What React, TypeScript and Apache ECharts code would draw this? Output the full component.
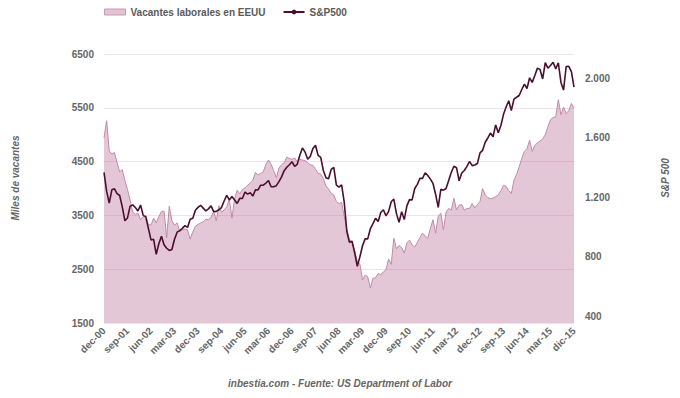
import React, { useEffect, useRef } from "react";
import * as echarts from "echarts";

// Monthly categories dec-00 .. dic-15
const monthAbbr = ["jan", "feb", "mar", "apr", "may", "jun", "jul", "aug", "sep", "oct", "nov", "dec"];
const categories: string[] = (() => {
  const out: string[] = [];
  for (let k = 0; k < 181; k++) {
    const mi = (11 + k) % 12;
    const y = 2000 + Math.floor((11 + k) / 12);
    out.push(`${monthAbbr[mi]}-${String(y % 100).padStart(2, "0")}`);
  }
  out[180] = "dic-15";
  return out;
})();

const leftTicks = [1500, 2500, 3500, 4500, 5500, 6500];
const rightTicks = [400, 800, 1200, 1600, 2000];

// Job openings (thousands)
const jobOpenings = [
  4940, 5260, 4700, 4640, 4670, 4480, 4310, 4350, 4150, 3980, 3780, 3560,
  3520, 3540, 3420, 3480, 3500, 3330, 3320, 3450, 3360, 3480, 3570, 3580,
  3080, 3670, 3400, 3320, 3360, 3200, 3230, 3250, 3230, 3060, 3190, 3300,
  3330, 3360, 3380, 3430, 3420, 3460, 3580, 3400, 3680, 3560, 3600, 3660,
  3800, 3450, 3800, 3970, 3900, 3980, 4010, 4060, 4100, 4150, 4300, 4250,
  4280, 4310, 4450, 4530, 4450, 4330, 4200, 4380, 4440, 4480, 4580, 4560,
  4540, 4570, 4500, 4540, 4530, 4520, 4480, 4440, 4430, 4360, 4280, 4270,
  4180, 4050, 3990, 3910, 3880, 3760, 3720, 3740, 3480, 3240, 3050, 2990,
  2850, 2650, 2600, 2300, 2390, 2360, 2150, 2330, 2340, 2420, 2400, 2450,
  2490, 2690, 2590, 3075, 2880, 2940, 2900, 2800, 2990, 3040, 2960, 2910,
  3000, 3090, 3170, 3120, 3075, 3260, 3420, 3170, 3480, 3540, 3230, 3560,
  3630, 3600, 3820, 3600, 3690, 3700, 3600, 3630, 3630, 3720, 3640, 3700,
  3760, 4000, 3880, 3830, 3810, 3820, 3850, 3880, 3960, 4060, 4040, 3960,
  3910, 4150, 4260, 4400, 4560, 4690, 4740, 4900, 4690, 4800, 4850, 4880,
  4920, 5000, 5150, 5280, 5320, 5330, 5650, 5370, 5510, 5390, 5450, 5580,
  5500,
];

// S&P 500 monthly
const sp500 = [
  1366, 1240, 1160, 1249, 1256, 1224, 1211, 1134, 1041, 1060, 1139, 1148,
  1130, 1107, 1147, 1077, 1067, 990, 912, 916, 815, 886, 936, 880,
  856, 841, 848, 917, 964, 975, 990, 1008, 996, 1051, 1058, 1112,
  1131, 1145, 1126, 1107, 1121, 1141, 1102, 1104, 1115, 1130, 1174, 1212,
  1181, 1204, 1181, 1157, 1192, 1191, 1234, 1220, 1229, 1207, 1249, 1248,
  1280, 1281, 1295, 1311, 1270, 1270, 1277, 1304, 1336, 1378, 1401, 1418,
  1438, 1407, 1421, 1482, 1531, 1503, 1455, 1474, 1527, 1549, 1481, 1468,
  1379, 1331, 1323, 1386, 1400, 1280, 1267, 1283, 1166, 969, 896, 903,
  826, 735, 798, 873, 919, 919, 987, 1021, 1057, 1036, 1096, 1115,
  1074, 1104, 1169, 1187, 1089, 1031, 1102, 1049, 1141, 1183, 1181, 1258,
  1286, 1327, 1326, 1364, 1345, 1321, 1292, 1219, 1131, 1253, 1247, 1258,
  1312, 1366, 1408, 1398, 1310, 1362, 1379, 1407, 1441, 1412, 1416, 1426,
  1498, 1515, 1569, 1598, 1631, 1606, 1686, 1633, 1682, 1757, 1806, 1848,
  1783, 1859, 1872, 1884, 1924, 1960, 1931, 2003, 1972, 2018, 2068, 2059,
  1995, 2105, 2068, 2086, 2107, 2063, 2104, 1972, 1920, 2079, 2080, 2044,
  1940,
];

const FONT = "'Liberation Sans', Arial, sans-serif";
const TEXT = "#666";

function fmtThousands(v: number): string {
  return String(Math.round(v)).replace(/\B(?=(\d{3})+(?!\d))/g, ".");
}

export default function App() {
  const ref = useRef<HTMLDivElement>(null);
  useEffect(() => {
    if (!ref.current) return;
    const chart = echarts.init(ref.current, null, { renderer: "svg" });
    chart.setOption({
      animation: false,
      title: {
        text: "inbestia.com - Fuente: US Department of Labor",
        left: "center",
        top: 378,
        padding: 0,
        textStyle: { fontSize: 10, fontWeight: "bold", fontStyle: "italic", color: TEXT, fontFamily: FONT },
      },
      legend: {
        left: 104,
        top: 7,
        padding: 0,
        itemWidth: 21,
        itemHeight: 6,
        itemGap: 17,
        textStyle: { fontSize: 10, fontWeight: "bold", color: "#5a5a5a", fontFamily: FONT },
        data: [
          {
            name: "Vacantes laborales en EEUU",
            icon: "rect",
            itemStyle: { color: "#e2c3d3", borderColor: "#cc98b4", borderWidth: 1 },
          },
          { name: "S&P500" },
        ],
      },
      grid: { left: 104, right: 106, top: 54, bottom: 75 },
      graphic: [
        {
          type: "text",
          x: 15,
          y: 178,
          rotation: Math.PI / 2,
          style: {
            text: "Miles de vacantes",
            align: "center",
            verticalAlign: "middle",
            fill: TEXT,
            fontSize: 10,
            fontWeight: "bold",
            fontStyle: "italic",
            fontFamily: FONT,
          },
        },
        {
          type: "text",
          x: 665,
          y: 178,
          rotation: Math.PI / 2,
          style: {
            text: "S&P 500",
            align: "center",
            verticalAlign: "middle",
            fill: TEXT,
            fontSize: 10,
            fontWeight: "bold",
            fontStyle: "italic",
            fontFamily: FONT,
          },
        },
      ],
      xAxis: {
        type: "category",
        data: categories,
        boundaryGap: false,
        axisLine: { show: false },
        axisTick: { show: false },
        axisLabel: {
          interval: 8,
          rotate: 45,
          margin: 6,
          color: TEXT,
          fontSize: 10,
          fontWeight: "bold",
          fontFamily: FONT,
        },
      },
      yAxis: [
        {
          type: "value",
          position: "left",
          min: 1500,
          max: 6500,
          axisLine: { show: false },
          axisTick: { show: false },
          splitLine: { show: false },
          axisLabel: {
            customValues: leftTicks,
            margin: 10,
            color: TEXT,
            fontSize: 10,
            fontWeight: "bold",
            fontFamily: FONT,
            formatter: (v: number) => String(Math.round(v)),
          },
        },
        {
          type: "value",
          position: "right",
          min: 353,
          max: 2163,
          axisLine: { show: false },
          axisTick: { show: false },
          splitLine: { show: false },
          axisLabel: {
            customValues: rightTicks,
            margin: 11,
            color: TEXT,
            fontSize: 10,
            fontWeight: "bold",
            fontFamily: FONT,
            formatter: (v: number) => fmtThousands(v),
          },
        },
      ],
      series: [
        {
          name: "Vacantes laborales en EEUU",
          type: "line",
          yAxisIndex: 0,
          data: jobOpenings,
          symbol: "none",
          z: 1,
          lineStyle: { color: "#c28aa9", width: 1 },
          itemStyle: { color: "#e2c3d3" },
          areaStyle: { color: "#e4c7d6", opacity: 1 },
        },
        {
          name: "grid",
          type: "line",
          yAxisIndex: 0,
          data: [],
          z: 2,
          markLine: {
            silent: true,
            symbol: ["none", "none"],
            label: { show: false },
            lineStyle: { color: "rgba(200,100,150,0.2)", width: 1, type: "solid" },
            data: leftTicks.map((v) => ({ yAxis: v })),
          },
        },
        {
          name: "S&P500",
          type: "line",
          yAxisIndex: 1,
          data: sp500,
          symbol: "none",
          z: 3,
          lineStyle: { color: "#4a0f2f", width: 1.6 },
          itemStyle: { color: "#4a0f2f" },
        },
      ],
    });
    return () => chart.dispose();
  }, []);
  return (
    <div
      ref={ref}
      style={{ position: "fixed", left: 0, top: 0, width: 680, height: 398, background: "#fff" }}
    />
  );
}
